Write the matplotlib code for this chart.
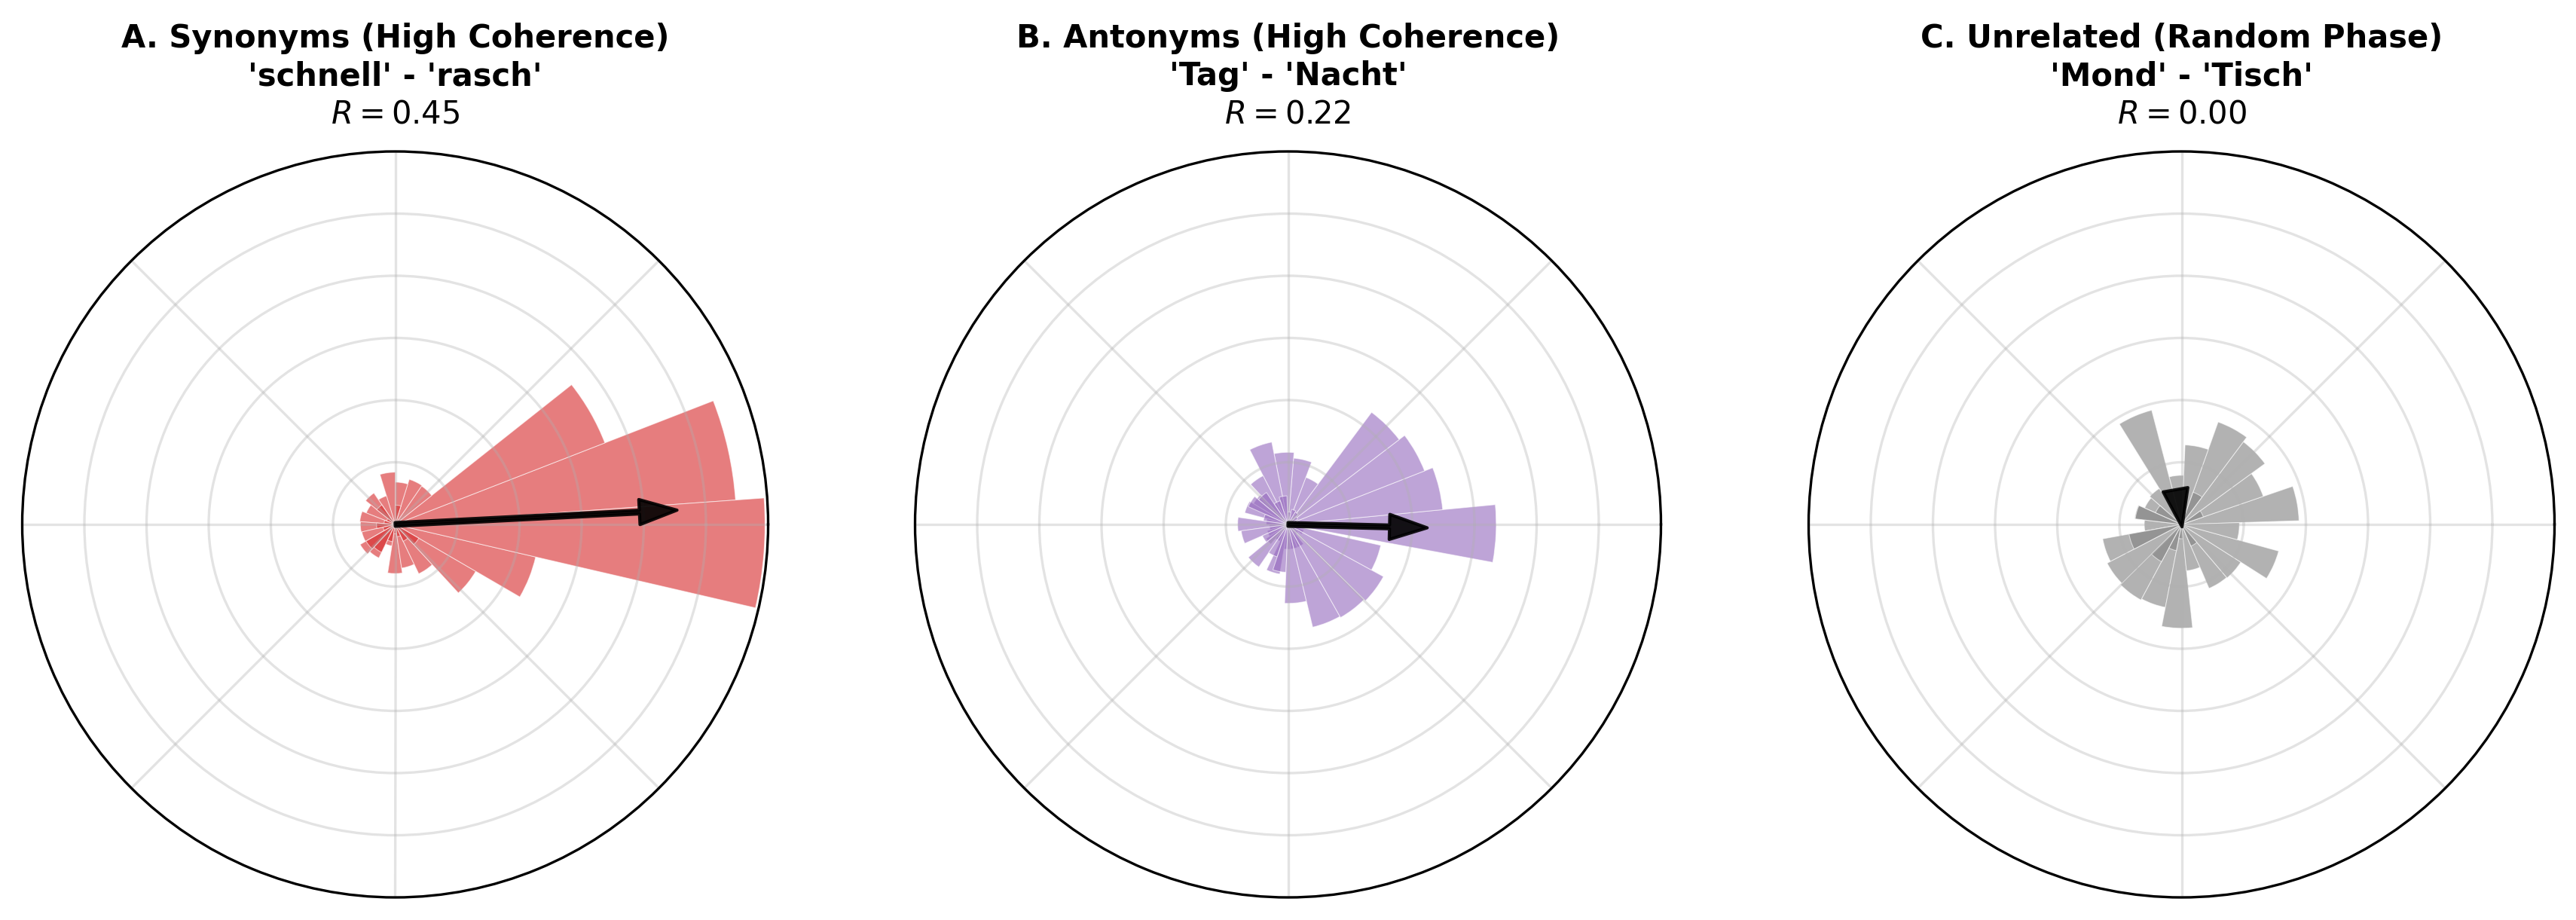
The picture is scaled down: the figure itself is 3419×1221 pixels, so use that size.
import numpy as np
import matplotlib
matplotlib.use("Agg")
import matplotlib.pyplot as plt

# ---------------- data ----------------
titles = ["A. Synonyms (High Coherence)",
          "B. Antonyms (High Coherence)",
          "C. Unrelated (Random Phase)"]
word_pairs = ["'schnell' - 'rasch'", "'Tag' - 'Nacht'", "'Mond' - 'Tisch'"]
colors = ["tab:red", "tab:purple", "gray"]
R_values = [0.454, 0.224, 0.004]          # mean resultant length
mean_angle_deg = [2.9, -1.4, 280.0]        # mean phase direction

# phase-difference histograms (density), first and wrapped second pass
A_bin_deg = 360 / 21
A_start1_deg = 4.1
A_density_1 = [0.549, 0.362, 0.075, 0.076, 0.068, 0.084, 0.048, 0.061, 0.050, 0.057, 0.056,
               0.055, 0.065, 0.060, 0.035, 0.079, 0.071, 0.088, 0.150, 0.232, 0.595]
A_start2_deg = 4.1
A_density_2 = [0.0, 0.0, 0.0, 0.0, 0.031, 0.0, 0.0, 0.038, 0.015, 0.018, 0.030,
               0.020, 0.054, 0.050, 0.028, 0.015, 0.020, 0.030, 0.044, 0.0, 0.0]

B_bin_deg = 15.95
B_start1_deg = -10.5
B_density_1 = [0.335, 0.250, 0.236, 0.225, 0.081, 0.107, 0.116, 0.135, 0.088, 0.065, 0.072,
               0.035, 0.030, 0.035, 0.042, 0.030, 0.081, 0.040, 0.040, 0.040, 0.020, 0.027]
B_start2_deg = -3.6
B_density_2 = [0.020, 0.015, 0.018, 0.023, 0.025, 0.020, 0.046, 0.040, 0.062, 0.070, 0.040,
               0.081, 0.076, 0.045, 0.083, 0.055, 0.077, 0.127, 0.170, 0.172, 0.175, 0.153]

C_bin_deg = 360 / 21
C_start1_deg = 1.8
C_density_1 = [0.189, 0.139, 0.166, 0.175, 0.128, 0.079, 0.190, 0.068, 0.065, 0.076, 0.060,
               0.129, 0.135, 0.138, 0.136, 0.167, 0.075, 0.112, 0.113, 0.162, 0.093]
C_start2_deg = 1.8
C_density_2 = [0.0, 0.037, 0.0, 0.055, 0.0, 0.0, 0.0, 0.0, 0.046, 0.075, 0.0,
               0.086, 0.0, 0.068, 0.043, 0.023, 0.0, 0.038, 0.0, 0.0, 0.0]

panels = [
    (A_bin_deg, [(A_start1_deg, A_density_1), (A_start2_deg, A_density_2)]),
    (B_bin_deg, [(B_start1_deg, B_density_1), (B_start2_deg, B_density_2)]),
    (C_bin_deg, [(C_start1_deg, C_density_1), (C_start2_deg, C_density_2)]),
]

# ---------------- figure ----------------
W, H, DPI = 3419, 1221, 300
fig = plt.figure(figsize=(W / DPI, H / DPI), dpi=DPI)

centers_x = [524.5, 1709.5, 2895.5]
radius_px = 495
bottom_px = 30

for i in range(3):
    cx = centers_x[i]
    ax = fig.add_axes([(cx - radius_px) / W, bottom_px / H,
                       2 * radius_px / W, 2 * radius_px / H], projection="polar")
    bin_deg, series = panels[i]
    for start, dens in series:
        dens = np.asarray(dens, dtype=float)
        idx = np.arange(len(dens))
        keep = dens > 0
        theta = np.deg2rad(start + bin_deg * idx[keep])
        ax.bar(theta, dens[keep], width=np.deg2rad(bin_deg), align="edge",
               color=colors[i], alpha=0.6, edgecolor=(1, 1, 1, 0.5), linewidth=0.25)

    ax.annotate("", xy=(np.deg2rad(mean_angle_deg[i]), R_values[i]), xytext=(0, 0),
                arrowprops=dict(facecolor="black", edgecolor="black", width=1.2,
                                headwidth=8, headlength=12, alpha=0.9, linewidth=1))

    ax.set_ylim(0, 0.6)
    ax.set_yticks([0.1, 0.2, 0.3, 0.4, 0.5])
    ax.set_yticklabels([])
    ax.set_xticklabels([])
    ax.grid(True, alpha=0.35)
    ax.set_title(f"{titles[i]}\n{word_pairs[i]}\n$R = {R_values[i]:.2f}$",
                 fontsize=10, fontweight="bold", pad=9, linespacing=1.25)

fig.savefig("out.png", dpi=DPI)
